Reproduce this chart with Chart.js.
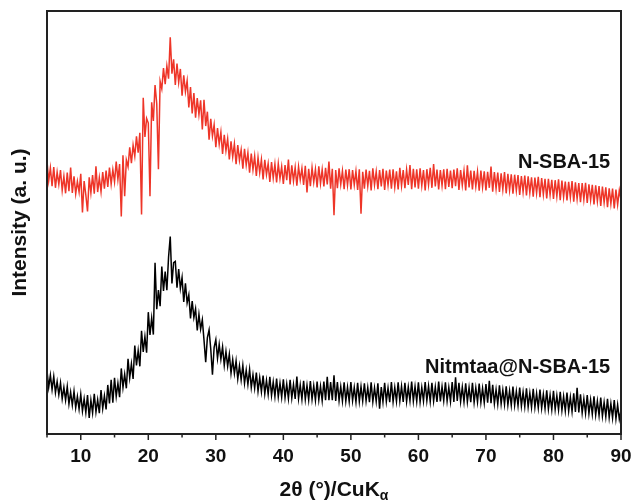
<!DOCTYPE html>
<html><head><meta charset="utf-8">
<script src="https://cdn.jsdelivr.net/npm/chart.js@4.4.1/dist/chart.umd.min.js"></script>
<style>html,body{margin:0;padding:0;background:#fff}#wrap{width:633px;height:502px;position:relative}</style>
</head><body><div id="wrap"><canvas id="c"></canvas></div>
<script>
// 2θ sampling grid (degrees)
const twoThetaStart = 5;
const twoThetaStep = 0.25;
const seriesNames = ['N-SBA-15', 'Nitmtaa@N-SBA-15'];
// intensity (a. u.), offset traces
const nSBA15 = [
64.5,59.8,62.9,58.6, 63.1,58.2,61.9,59.0, 62.4,57.6,60.9,56.9, 61.8,57.4,63.0,57.0,
60.9,56.8,59.7,57.2, 61.5,52.4,59.8,56.5, 52.6,60.7,57.0,61.2, 56.8,63.3,57.2,60.6,
57.3,61.9,58.0,62.3, 58.4,63.0,59.1,62.5, 59.6,64.4,60.2,63.8, 51.4,65.9,56.2,64.8,
63.2,67.8,64.0,68.3, 65.7,70.4,66.5,71.2, 51.9,79.5,70.2,74.6, 73.5,56.2,78.4,74.0,
82.5,78.1,62.6,83.4, 81.6,86.5,82.7,87.0, 84.0,93.8,85.2,88.6, 82.5,87.6,83.1,86.3,
80.0,84.8,80.9,83.5, 77.2,82.0,75.8,80.6, 74.8,79.4,75.5,78.9, 72.0,79.0,72.8,76.2,
69.6,74.5,70.4,73.1, 67.8,72.3,68.5,71.4, 66.2,70.7,67.0,69.8, 64.9,69.2,65.5,68.6,
63.8,68.3,64.7,67.2, 62.7,67.4,63.6,66.5, 61.8,66.3,62.5,65.7, 61.0,65.4,61.8,64.9,
60.2,64.8,61.3,63.9, 59.6,64.3,60.5,63.8, 59.5,63.9,60.4,63.2, 59.1,63.6,60.0,64.9,
59.0,63.5,59.8,63.0, 58.7,63.2,60.1,62.8, 58.9,63.4,57.1,62.7, 58.6,63.0,59.5,62.6,
58.3,63.3,59.2,62.5, 58.5,62.9,59.0,64.4, 58.0,62.7,51.7,62.4, 58.1,62.8,59.0,62.2,
57.9,62.5,58.8,62.6, 57.8,62.4,58.9,62.1, 57.7,62.6,52.1,62.0, 58.0,62.5,58.6,62.2,
57.6,62.8,58.9,62.0, 57.9,62.4,58.5,62.7, 57.7,62.3,58.8,62.5, 58.0,62.6,58.4,62.1,
57.8,62.9,58.7,62.4, 58.1,62.5,58.9,63.6, 57.9,62.7,58.3,62.6, 58.0,62.8,58.7,62.4,
57.6,62.6,58.9,62.9, 58.2,63.8,58.5,62.5, 57.8,62.4,58.7,62.6, 57.9,62.7,58.4,62.3,
58.1,62.5,58.6,62.8, 57.7,62.4,58.8,62.2, 57.6,63.5,58.3,62.3, 57.8,62.2,58.5,62.0,
57.5,62.3,58.4,62.1, 57.6,62.0,58.2,63.2, 57.3,61.9,58.0,61.8, 57.2,61.6,57.8,61.9,
56.9,61.5,57.6,61.4, 56.8,61.3,57.5,61.2, 56.5,61.0,57.2,61.1, 56.4,60.9,57.0,60.7,
56.1,60.6,56.9,60.8, 56.0,60.5,56.6,60.3, 55.7,60.3,56.5,60.1, 55.6,60.0,56.2,60.2,
55.3,59.9,56.0,59.7, 55.2,59.6,55.9,59.8, 54.9,59.5,55.6,59.3, 54.8,59.3,55.4,59.4,
54.6,59.0,55.3,58.9, 54.3,58.8,55.0,58.6, 53.9,58.5,54.7,58.3, 53.6,58.1,54.4,58.0,
53.3,57.8,54.2,57.6, 55.4
];
const nitmtaaNSBA15 = [
15.0,11.0,13.9,10.5, 13.6,9.8,12.4,9.3, 12.1,8.3,11.0,8.0, 11.2,7.1,9.9,6.8,
10.1,6.2,8.9,5.9, 9.4,5.4,8.3,5.1, 9.2,3.8,8.0,5.0, 9.5,5.2,8.1,4.9,
10.4,6.0,9.0,5.8, 11.6,7.2,12.8,7.4, 13.3,8.9,12.0,8.7, 15.5,11.0,14.1,10.8,
17.8,13.3,16.6,13.0, 20.9,16.2,19.7,16.0, 24.4,19.4,23.0,19.2, 28.8,23.4,27.4,23.5,
40.5,29.5,34.0,30.2, 39.6,33.8,38.4,34.0, 41.8,46.7,35.6,40.5, 40.8,34.6,39.0,34.4,
37.0,31.2,35.6,31.0, 32.9,27.3,31.4,27.5, 29.6,24.5,28.3,24.8, 27.0,22.2,17.0,22.8,
24.6,20.1,14.0,20.5, 22.3,17.9,21.2,17.7, 20.6,16.2,19.5,16.0, 18.9,14.4,17.6,14.3,
17.3,13.0,16.1,12.8, 16.2,12.0,15.1,11.7, 15.3,11.0,14.0,10.8, 14.5,10.1,13.3,10.0,
13.8,9.5,12.7,9.4, 13.5,9.1,12.3,8.9, 13.1,8.8,12.0,8.7, 12.9,8.6,11.8,8.4,
12.8,8.5,11.7,8.3, 13.6,8.4,11.6,8.2, 12.6,8.2,11.5,8.1, 12.5,8.2,11.4,8.0,
12.4,8.1,11.3,7.9, 12.4,8.0,13.5,8.0, 12.3,8.0,13.9,7.8, 12.3,7.9,11.2,7.8,
12.2,7.8,11.1,7.7, 12.3,7.9,11.0,7.6, 12.1,7.7,11.2,7.8, 12.0,7.8,11.0,7.5,
12.2,7.6,10.9,7.7, 12.0,6.0,11.1,7.6, 12.1,7.7,10.9,7.5, 12.3,7.6,11.0,7.7,
12.2,7.8,11.3,7.6, 12.1,7.7,11.1,7.9, 12.4,7.8,11.2,7.7, 12.2,7.6,11.0,7.8,
12.3,7.9,11.3,7.7, 12.1,7.8,11.1,7.6, 12.4,7.7,11.2,7.9, 12.2,7.8,11.0,7.7,
12.3,7.6,13.4,7.8, 12.1,7.7,11.1,7.6, 12.0,7.6,11.0,7.5, 12.1,7.5,10.9,7.6,
11.9,7.5,10.8,7.4, 11.8,7.4,12.6,7.3, 11.6,7.2,10.5,7.1, 11.5,7.1,10.4,7.0,
11.3,6.9,10.2,6.8, 11.2,6.8,10.1,6.7, 11.0,6.6,9.9,6.5, 10.8,6.4,9.7,6.3,
10.7,6.3,9.6,6.2, 10.5,6.1,9.4,6.0, 10.3,5.9,9.2,5.8, 10.2,5.8,9.1,5.7,
10.0,5.6,8.9,5.5, 9.8,5.4,8.7,5.3, 9.6,5.2,10.9,5.1, 9.4,5.0,8.3,4.9,
9.2,4.8,8.1,4.7, 8.9,4.5,7.8,4.4, 8.6,4.2,7.5,4.1, 8.3,3.9,7.2,3.8,
8.0,3.6,6.9,3.5, 5.5
];
const xTickLabels = [10, 20, 30, 40, 50, 60, 70, 80, 90];
const seriesLabelX = [88.4, 88.4];
const seriesLabelY = [64.3, 15.8];
const seriesColors = ['#ee3528', '#000000'];
const xTitleMain = '2θ (°)/CuK';
const xTitleSub = 'α';
const yTitle = 'Intensity (a. u.)';

const FAMILY = '"Liberation Sans", Arial, Helvetica, sans-serif';
const toPoints = arr => arr.map((v, i) => ({ x: twoThetaStart + i * twoThetaStep, y: v }));

const framePlugin = {
  id: 'frame',
  afterDraw(chart) {
    const { ctx, chartArea: a, scales: { x, y } } = chart;
    ctx.save();
    ctx.strokeStyle = '#222';
    ctx.lineWidth = 2;
    ctx.strokeRect(a.left, a.top, a.right - a.left, a.bottom - a.top);
    ctx.lineWidth = 1.5;
    x.ticks.forEach(t => {
      const px = x.getPixelForValue(t.value);
      const len = xTickLabels.includes(t.value) ? 6 : 3.5;
      ctx.beginPath();
      ctx.moveTo(px, a.bottom);
      ctx.lineTo(px, a.bottom + len);
      ctx.stroke();
    });
    ctx.fillStyle = '#111';
    ctx.font = 'bold 20px ' + FAMILY;
    ctx.textAlign = 'right';
    ctx.textBaseline = 'middle';
    seriesNames.forEach((n, i) => {
      ctx.fillText(n, x.getPixelForValue(seriesLabelX[i]), y.getPixelForValue(seriesLabelY[i]));
    });
    const cx = (a.left + a.right) / 2;
    const ty = 490;
    ctx.font = 'bold 21px ' + FAMILY;
    const wMain = ctx.measureText(xTitleMain).width;
    ctx.font = 'bold 14px ' + FAMILY;
    const wSub = ctx.measureText(xTitleSub).width;
    const start = cx - (wMain + wSub) / 2;
    ctx.textAlign = 'left';
    ctx.font = 'bold 21px ' + FAMILY;
    ctx.fillText(xTitleMain, start, ty);
    ctx.font = 'bold 14px ' + FAMILY;
    ctx.fillText(xTitleSub, start + wMain, ty + 6);
    ctx.restore();
  }
};

new Chart(document.getElementById('c'), {
  type: 'line',
  data: {
    datasets: [
      { label: seriesNames[0], data: toPoints(nSBA15), borderColor: seriesColors[0], borderWidth: 1.5, pointRadius: 0, tension: 0 },
      { label: seriesNames[1], data: toPoints(nitmtaaNSBA15), borderColor: seriesColors[1], borderWidth: 1.5, pointRadius: 0, tension: 0 }
    ]
  },
  options: {
    responsive: true,
    maintainAspectRatio: false,
    animation: false,
    layout: { padding: { top: 11, right: 12, left: 0, bottom: 0 } },
    plugins: { legend: { display: false }, tooltip: { enabled: false } },
    scales: {
      x: {
        type: 'linear', min: 5, max: 90,
        afterFit: s => { s.height = 68; s.paddingLeft = 0; s.paddingRight = 0; },
        ticks: {
          stepSize: 5, autoSkip: false, maxRotation: 0, padding: 5, color: '#111',
          font: { family: FAMILY, size: 19, weight: 'bold' },
          callback: v => xTickLabels.includes(v) ? String(v) : ''
        },
        grid: { display: true, drawOnChartArea: false, drawTicks: true, tickLength: 6, tickColor: 'rgba(0,0,0,0)' },
        border: { display: false }
      },
      y: {
        min: 0, max: 100,
        afterFit: s => { s.width = 47; },
        ticks: { display: false },
        grid: { display: false },
        border: { display: false },
        title: { display: true, text: yTitle, color: '#111', font: { family: FAMILY, size: 21, weight: 'bold' }, padding: { top: 8, bottom: 0 } }
      }
    }
  },
  plugins: [framePlugin]
});
</script>
</body></html>
